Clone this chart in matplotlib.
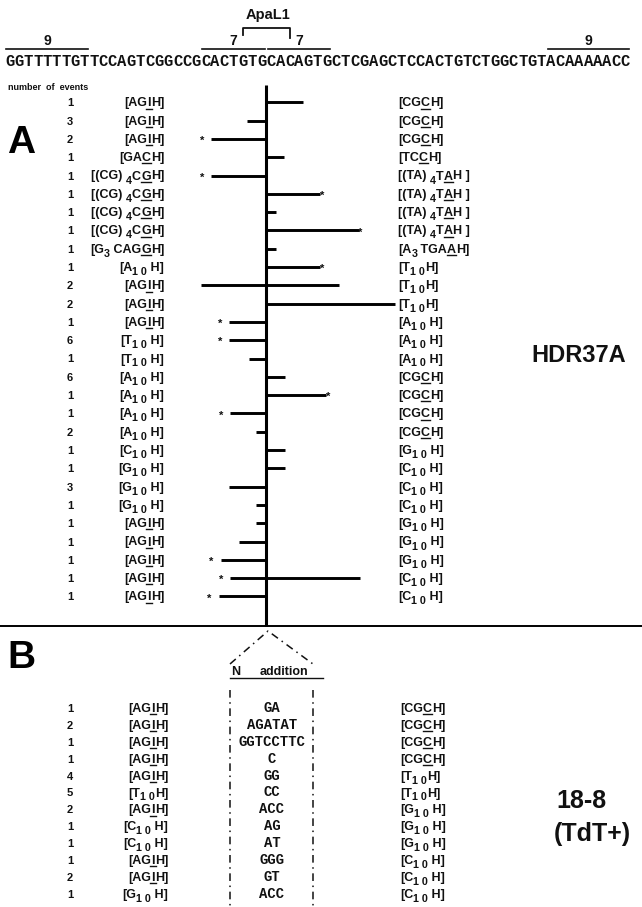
import matplotlib
matplotlib.use('Agg')
import matplotlib.pyplot as plt

# ---------------- data ----------------
sequence = "GGTTTTTGTTCCAGTCGGCCGCACTGTGCACAGTGCTCGAGCTCCACTGTCTGGCTGTACAAAAACC"
cut_site = 28  # nucleotide index of the cut (between GTG | CAC)
signal_labels = ["9", "7", "7", "9"]
signal_start = [0, 21, 28, 58]
signal_end = [9, 28, 35, 67]
apal1_start, apal1_end = 25.5, 30.5

counts_A = [1, 3, 2, 1, 1, 1, 1, 1, 1, 1, 2, 2, 1, 6, 1, 6, 1, 1, 2, 1, 1, 3, 1, 1, 1, 1, 1, 1]
left_A = (["[AG_I_H]"] * 3 + ["[GA_C_H]"] + ["[(CG) ~4~C_G_H]"] * 4 + ["[G~3~ CAG_G_H]", "[A~1 0~ H]"]
          + ["[AG_I_H]"] * 3 + ["[T~1 0~ H]"] * 2 + ["[A~1 0~ H]"] * 4 + ["[C~1 0~ H]"]
          + ["[G~1 0~ H]"] * 3 + ["[AG_I_H]"] * 5)
right_A = (["[CG_C_H]"] * 3 + ["[TC_C_H]"] + ["[(TA) ~4~T_A_H ]"] * 4 + ["[A~3~ TGA_A_H]"]
           + ["[T~1 0~H]"] * 3 + ["[A~1 0~ H]"] * 3 + ["[CG_C_H]"] * 4 + ["[G~1 0~ H]"]
           + ["[C~1 0~ H]"] * 3 + ["[G~1 0~ H]"] * 3 + ["[C~1 0~ H]"] * 2)
# deletion extents (nucleotides) to the left (negative) and right of the cut
del_left = [0, -2.1, -5.9, 0, -5.9, 0, 0, 0, 0, 0, -7.0, 0, -4.0, -4.0, -1.9, 0, 0, -3.9,
            -1.1, 0, 0, -4.0, -1.1, -1.1, -2.9, -4.9, -3.9, -5.1]
del_right = [3.9, 0, 0, 1.9, 0, 5.8, 1.0, 9.9, 1.0, 5.8, 7.8, 13.8, 0, 0, 0, 2.0, 6.4, 0, 0,
             2.0, 2.0, 0, 0, 0, 0, 0, 10.1, 0]
star_left = [3, 5, 13, 14, 18, 26, 27, 28]
star_right = [6, 8, 10, 17]

counts_B = [1, 2, 1, 1, 4, 5, 2, 1, 1, 1, 2, 1]
left_B = (["[AG_I_H]"] * 5 + ["[T~1 0~H]", "[AG_I_H]", "[C~1 0~ H]", "[C~1 0~ H]",
                               "[AG_I_H]", "[AG_I_H]", "[G~1 0~ H]"])
n_addition = ["GA", "AGATAT", "GGTCCTTC", "C", "GG", "CC", "ACC", "AG", "AT", "GGG", "GT", "ACC"]
right_B = (["[CG_C_H]"] * 4 + ["[T~1 0~H]"] * 2 + ["[G~1 0~ H]"] * 3 + ["[C~1 0~ H]"] * 3)

# ---------------- layout ----------------
W, H = 642, 907
PX = 9.33          # pixels per nucleotide
SEQ_X0 = 5         # pixel x of sequence start
ROW0_A, DY_A = 102.3, 18.3
ROW0_B, DY_B = 708.0, 16.9
SANS = 'Liberation Sans'
MONO = 'Liberation Mono'
INK = '#111111'

fig = plt.figure(figsize=(W / 100, H / 100), dpi=100)
ax = fig.add_axes([0, 0, 1, 1])
ax.set_xlim(0, W)
ax.set_ylim(H, 0)
ax.axis('off')
axn = fig.add_axes([0, 0, 1, 1])
axn.set_xlim(-SEQ_X0 / PX, (W - SEQ_X0) / PX)
axn.set_ylim(H, 0)
axn.axis('off')
axn.patch.set_alpha(0)

fig.canvas.draw()
renderer = fig.canvas.get_renderer()


def measure(txt, size, family=SANS):
    t1 = ax.text(0, 0, 'x' + txt + 'x', fontsize=size, fontweight='bold', family=family)
    t2 = ax.text(0, 0, 'xx', fontsize=size, fontweight='bold', family=family)
    w = t1.get_window_extent(renderer).width - t2.get_window_extent(renderer).width
    t1.remove(); t2.remove()
    return w


def parse(s):
    parts, buf, i = [], '', 0
    while i < len(s):
        c = s[i]
        if c in '_~':
            j = s.index(c, i + 1)
            if buf:
                parts.append((buf, 'n'))
                buf = ''
            parts.append((s[i + 1:j], 'u' if c == '_' else 's'))
            i = j + 1
        else:
            buf += c
            i += 1
    if buf:
        parts.append((buf, 'n'))
    return parts


def rich(x, yc, s, ha='left', size=9.0):
    parts = parse(s)
    sizes = [size * 0.85 if k == 's' else size for _, k in parts]
    widths = [measure(t, fs) for (t, _), fs in zip(parts, sizes)]
    total = sum(widths)
    cur = x - total if ha == 'right' else x
    base = yc + 4
    for (txt, k), fs, w in zip(parts, sizes, widths):
        dy = 4 if k == 's' else 0
        ax.text(cur, base + dy, txt, fontsize=fs, fontweight='bold', family=SANS,
                color=INK, va='baseline', ha='left')
        if k == 'u':
            ext = 1.2 if w < 5 else 0
            ax.plot([cur - ext, cur + w + ext], [base + 2.2, base + 2.2], color=INK, lw=1.0)
        cur += w


# ---------------- top: sequence ----------------
for i, ch in enumerate(sequence):
    axn.text(i + 0.5, 62, ch, fontsize=11.2, fontweight='bold', family=MONO,
             color=INK, ha='center', va='center')
for lab, s0, s1 in zip(signal_labels, signal_start, signal_end):
    axn.plot([s0 + 0.15, s1 - 0.15], [49, 49], color=INK, lw=1.2)
    axn.text((s0 + s1) / 2, 41, lab, fontsize=10, fontweight='bold', family=SANS,
             color=INK, ha='center', va='center')
axn.plot([apal1_start, apal1_start, apal1_end, apal1_end], [35, 28, 28, 38], color=INK, lw=1.3)
axn.text(cut_site + 0.2, 15, "ApaL1", fontsize=10.5, fontweight='bold', family=SANS,
         color=INK, ha='center', va='center')

# ---------------- panel A ----------------
ax.text(8, 88, "number  of  events", fontsize=6.5, fontweight='bold', family=SANS,
        color=INK, ha='left', va='center')
ax.text(21, 143, "A", fontsize=28, fontweight='bold', family=SANS, color='black',
        ha='center', va='center')
ax.text(579, 356, "HDR37A", fontsize=17, fontweight='bold', family=SANS, color=INK,
        ha='center', va='center')

rows_A = [ROW0_A + i * DY_A for i in range(len(counts_A))]
axn.vlines(cut_site, 85, 626, color='black', lw=2.2)
axn.hlines(rows_A, [cut_site + v for v in del_left], [cut_site + v for v in del_right],
           color='black', lw=2.1)
for r in star_left:
    axn.text(cut_site + del_left[r - 1] - 9 / PX, rows_A[r - 1] + 2, "*", fontsize=8,
             fontweight='bold', family=SANS, ha='center', va='center', color=INK)
for r in star_right:
    axn.text(cut_site + del_right[r - 1] + 2 / PX, rows_A[r - 1] + 2, "*", fontsize=8,
             fontweight='bold', family=SANS, ha='center', va='center', color=INK)

for y, c, l, r in zip(rows_A, counts_A, left_A, right_A):
    ax.text(70, y + 4, str(c), fontsize=8, fontweight='bold', family=SANS, color=INK,
            ha='center', va='baseline')
    rich(164, y, l, ha='right')
    rich(398, y, r, ha='left')

# separator
ax.plot([0, W], [626, 626], color='black', lw=1.4)

# ---------------- panel B ----------------
ax.text(21, 658, "B", fontsize=28, fontweight='bold', family=SANS, color='black',
        ha='center', va='center')
ax.text(556, 801, "18-8", fontsize=18, fontweight='bold', family=SANS, color=INK,
        ha='left', va='center')
ax.text(554, 834, "(TdT+)", fontsize=18, fontweight='bold', family=SANS, color=INK,
        ha='left', va='center')

dashdot = (0, (5, 3, 1, 3))
ax.plot([230, 268, 313], [664, 631, 664], color=INK, lw=1.1, ls=dashdot)
ax.plot([230, 230], [690, H], color=INK, lw=1.1, ls=dashdot)
ax.plot([313, 313], [690, H], color=INK, lw=1.1, ls=dashdot)
ax.text(231, 675, "N", fontsize=9, fontweight='bold', family=SANS, color=INK,
        ha='left', va='baseline')
ax.text(260, 675, "addition", fontsize=9, fontweight='bold', family=SANS, color=INK,
        ha='left', va='baseline')
ax.plot([230, 323], [678, 678], color=INK, lw=1.0)

rows_B = [ROW0_B + i * DY_B for i in range(len(counts_B))]
for y, c, l, n, r in zip(rows_B, counts_B, left_B, n_addition, right_B):
    ax.text(70, y + 4, str(c), fontsize=8, fontweight='bold', family=SANS, color=INK,
            ha='center', va='baseline')
    rich(168, y, l, ha='right')
    ax.text(272, y + 4, n, fontsize=10, fontweight='bold', family=MONO, color=INK,
            ha='center', va='baseline')
    rich(400, y, r, ha='left')

fig.savefig('out.png', dpi=100)
